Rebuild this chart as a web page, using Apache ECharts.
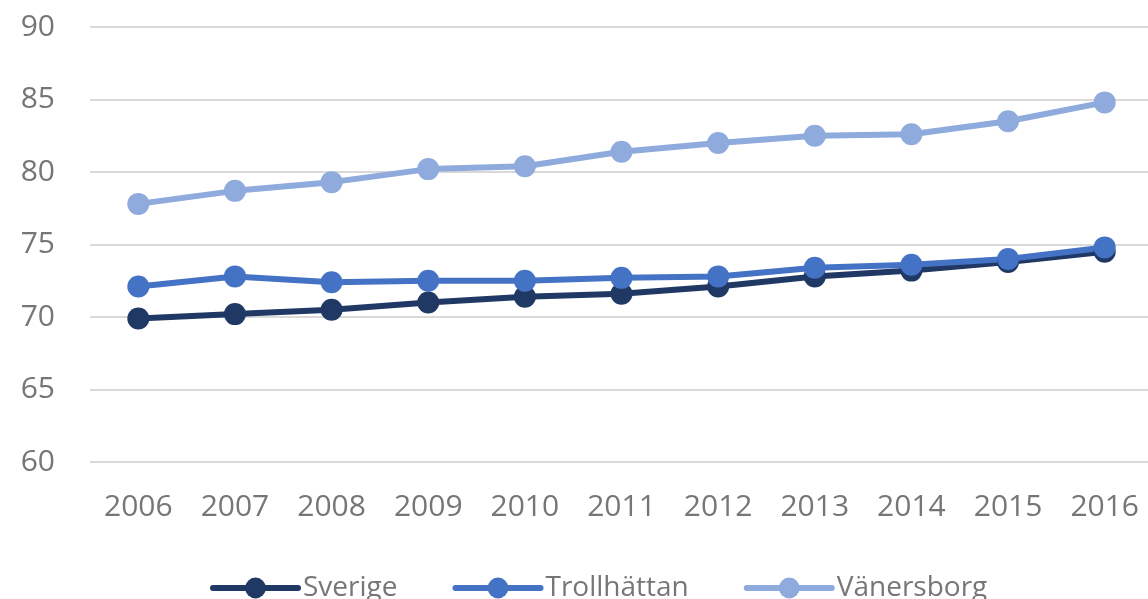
<!DOCTYPE html>
<html>
<head>
<meta charset="utf-8">
<script src="https://cdn.jsdelivr.net/npm/echarts@6/dist/echarts.min.js"></script>
<style>
  html, body { margin: 0; padding: 0; background: #fff; }
  #chart { width: 1148px; height: 599px; }
</style>
</head>
<body>
<div id="chart"></div>
<script>
const years = ['2006', '2007', '2008', '2009', '2010', '2011', '2012', '2013', '2014', '2015', '2016']
const sverige = [69.9, 70.2, 70.5, 71.0, 71.4, 71.6, 72.1, 72.8, 73.2, 73.8, 74.5]
const trollhattan = [72.1, 72.8, 72.4, 72.5, 72.5, 72.7, 72.8, 73.4, 73.6, 74.0, 74.8]
const vanersborg = [77.8, 78.7, 79.3, 80.2, 80.4, 81.4, 82.0, 82.5, 82.6, 83.5, 84.8]

const chart = echarts.init(document.getElementById('chart'))

const font = '"Open Sans", "Noto Sans", sans-serif'
const labelColor = '#767676'

const lineSeries = (name, data, color) => ({
  name,
  type: 'line',
  data,
  symbol: 'circle',
  symbolSize: 22,
  lineStyle: { width: 6, color },
  itemStyle: { color },
  animation: false
})

chart.setOption({
  backgroundColor: '#fff',
  grid: {
    top: 27,
    bottom: 137,
    left: 90,
    right: -5,
    outerBoundsMode: 'none'
  },
  legend: {
    left: 205,
    top: 569,
    itemWidth: 85,
    itemHeight: 26,
    itemGap: 55,
    lineStyle: { width: 6, cap: 'round' },
    textStyle: { color: labelColor, fontSize: 28, fontFamily: font },
    data: ['Sverige', 'Trollhättan', 'Vänersborg']
  },
  xAxis: {
    type: 'category',
    data: years,
    boundaryGap: true,
    axisLine: { show: false },
    axisTick: { show: false },
    axisLabel: {
      color: labelColor,
      fontSize: 30,
      fontFamily: font,
      margin: 30
    }
  },
  yAxis: {
    type: 'value',
    min: 60,
    max: 90,
    interval: 5,
    axisLine: { show: false },
    axisTick: { show: false },
    axisLabel: {
      color: labelColor,
      fontSize: 30,
      fontFamily: font,
      margin: 35
    },
    splitLine: {
      lineStyle: { color: '#d9d9d9', width: 2 }
    }
  },
  series: [
    lineSeries('Sverige', sverige, '#203864'),
    lineSeries('Trollhättan', trollhattan, '#4472C4'),
    lineSeries('Vänersborg', vanersborg, '#8FAADC')
  ]
})
</script>
</body>
</html>
